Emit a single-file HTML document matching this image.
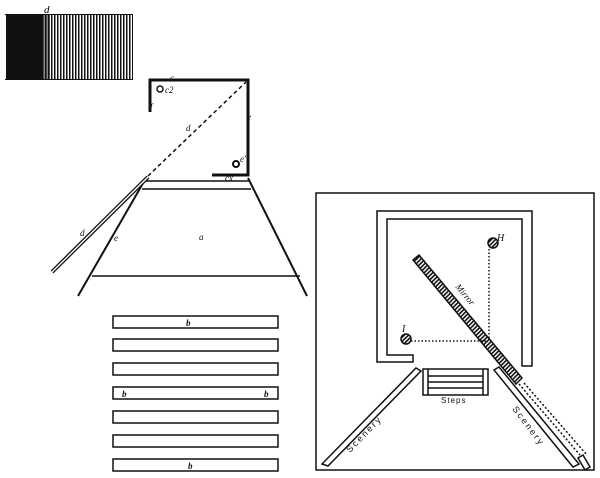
<!DOCTYPE html>
<html><head><meta charset="utf-8"><style>
html,body{margin:0;padding:0;background:#fff;}
svg{display:block;font-family:"Liberation Serif",serif;}
</style></head><body>
<svg width="600" height="478" viewBox="0 0 600 478">
<defs>
<pattern id="vs" width="3" height="4" patternUnits="userSpaceOnUse"><rect width="1.5" height="4" fill="#111"/></pattern>
<pattern id="hatch" width="3" height="3" patternUnits="userSpaceOnUse" patternTransform="rotate(45)"><rect width="1.6" height="3" fill="#111"/></pattern>
</defs>
<g>
<rect x="5" y="14" width="128" height="66" fill="url(#vs)"/>
<rect x="6" y="14" width="36" height="66" fill="#111"/>
<rect x="42" y="14" width="8" height="66" fill="#111" opacity="0.5"/>
<line x1="5" y1="14.5" x2="133" y2="14.5" stroke="#111"/>
<line x1="5" y1="79.5" x2="133" y2="79.5" stroke="#111"/>
<text x="44" y="13" font-size="11" font-style="italic">d</text>
</g>
<g stroke="#111" fill="none">
<path d="M150 112 V80 H248 V175 H212" stroke-width="3"/>
<circle cx="160" cy="89" r="3" stroke-width="1.5"/>
<circle cx="236" cy="164" r="3" stroke-width="2"/>
<line x1="148" y1="176" x2="246" y2="82" stroke-width="1.5" stroke-dasharray="4,3"/>
<line x1="146" y1="181" x2="250" y2="181" stroke-width="1.5"/>
<line x1="142" y1="189" x2="251" y2="189" stroke-width="1.5"/>
<line x1="146" y1="178" x2="78" y2="296" stroke-width="2"/>
<line x1="248" y1="178" x2="307" y2="296" stroke-width="2"/>
<line x1="92" y1="276" x2="300" y2="276" stroke-width="1.5"/>
<line x1="52" y1="272" x2="148" y2="177" stroke-width="4"/>
<line x1="52" y1="272" x2="148" y2="177" stroke="#fff" stroke-width="1.4"/>
</g>
<g font-size="9" font-style="italic" fill="#111">
<text x="170" y="81">c</text><text x="165" y="93">c2</text><text x="150" y="110">f</text>
<text x="247" y="120">e</text><text x="240" y="162">e'</text><text x="225" y="181">cx</text>
<text x="186" y="131">d</text><text x="80" y="236">d</text><text x="114" y="241">e</text><text x="199" y="240">a</text>
</g>
<g fill="none" stroke="#111" stroke-width="1.5">
<rect x="113" y="316" width="165" height="12"/>
<rect x="113" y="339" width="165" height="12"/>
<rect x="113" y="363" width="165" height="12"/>
<rect x="113" y="387" width="165" height="12"/>
<rect x="113" y="411" width="165" height="12"/>
<rect x="113" y="435" width="165" height="12"/>
<rect x="113" y="459" width="165" height="12"/>
</g>
<g font-size="9" font-style="italic" font-weight="bold" fill="#111">
<text x="186" y="326">b</text><text x="122" y="397">b</text><text x="264" y="397">b</text><text x="188" y="469">b</text>
</g>
<g stroke="#111" fill="none" stroke-width="1.5">
<rect x="316" y="193" width="278" height="277"/>
<path d="M413 362 H377 V211 H532 V366 H522 V219 H387 V355 H413 Z"/>
<polygon points="413,260 419,255 522,378 516,384" fill="url(#hatch)"/>
<circle cx="493" cy="243" r="5" fill="url(#hatch)"/>
<circle cx="406" cy="339" r="5" fill="url(#hatch)"/>
<line x1="489" y1="249" x2="489" y2="340" stroke-dasharray="1.5,2"/>
<line x1="411" y1="341" x2="486" y2="341" stroke-dasharray="1.5,2"/>
<rect x="423" y="369" width="65" height="26"/>
<line x1="428" y1="369" x2="428" y2="395"/><line x1="483" y1="369" x2="483" y2="395"/>
<line x1="428" y1="376" x2="483" y2="376"/><line x1="428" y1="382" x2="483" y2="382"/><line x1="428" y1="388" x2="483" y2="388"/>
<polygon points="416,368 421,371 328,466 322,464"/>
<polygon points="494,370 499,367 579,464 573,467"/>
<line x1="519" y1="384" x2="580" y2="455" stroke-dasharray="2,2"/>
<line x1="524" y1="383" x2="587" y2="455" stroke-dasharray="2,2"/>
<polygon points="578,458 583,455 590,467 585,470"/>
</g>
<g fill="#111">
<text x="497" y="241" font-size="10" font-style="italic">H</text>
<text x="402" y="332" font-size="10" font-style="italic">I</text>
<text x="455" y="287" font-size="9" font-style="italic" transform="rotate(50 455 287)">Mirror</text>
<text x="441" y="403" font-size="8" font-family="Liberation Sans, sans-serif" letter-spacing="1">Steps</text>
<text x="350" y="453" font-size="9" font-family="Liberation Sans, sans-serif" letter-spacing="2" transform="rotate(-46 350 453)">Scenery</text>
<text x="512" y="409" font-size="9" font-family="Liberation Sans, sans-serif" letter-spacing="2" transform="rotate(53 512 409)">Scenery</text>
</g>
</svg>
</body></html>
